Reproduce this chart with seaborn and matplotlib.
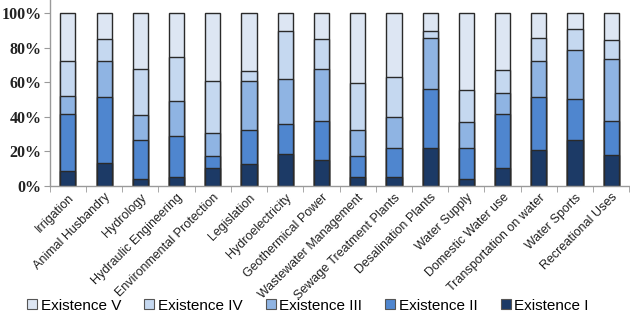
import matplotlib
matplotlib.use("Agg")
import matplotlib.pyplot as plt
import seaborn as sns
import pandas as pd
import numpy as np
from matplotlib.ticker import PercentFormatter, FixedLocator
from matplotlib.patches import Patch

categories = ["Irrigation", "Animal Husbandry", "Hydrology", "Hydraulic Engineering",
              "Environmental Protection", "Legislation", "Hydroelectricity",
              "Geothermical Power", "Wastewater Management", "Sewage Treatment Plants",
              "Desalination Plants", "Water Supply", "Domestic Water use",
              "Transportation on water", "Water Sports", "Recreational Uses"]

existence_1 = [8.5, 13.2, 3.9, 5.4, 10.4, 12.6, 18.2, 14.9, 5.4, 5.0, 22.2, 4.1, 10.4, 20.9, 26.3, 17.8]
existence_2 = [33.1, 38.1, 22.4, 23.4, 6.8, 19.5, 17.6, 22.8, 11.8, 16.7, 34.1, 18.1, 31.2, 30.4, 23.8, 19.9]
existence_3 = [10.6, 20.8, 14.9, 20.1, 13.6, 28.8, 25.9, 29.8, 14.9, 18.1, 29.2, 14.9, 12.4, 20.8, 28.4, 35.6]
existence_4 = [20.3, 12.8, 26.5, 25.6, 29.7, 5.8, 27.9, 17.4, 27.5, 23.3, 4.4, 18.2, 12.9, 13.8, 12.2, 11.2]
existence_5 = [27.5, 15.1, 32.3, 25.5, 39.5, 33.3, 10.4, 15.1, 40.4, 36.9, 10.1, 44.7, 33.1, 14.1, 9.3, 15.5]

series_names = ["Existence I", "Existence II", "Existence III", "Existence IV", "Existence V"]
series_values = [existence_1, existence_2, existence_3, existence_4, existence_5]
colors = ["#1c3a66", "#4f86cf", "#8fb4e3", "#c5d8f0", "#dde6f3"]

vals = np.array(series_values, dtype=float)
vals = vals / vals.sum(axis=0, keepdims=True)
cum = np.cumsum(vals, axis=0)

fig = plt.figure(figsize=(6.3, 3.14), dpi=100)
ax = fig.add_axes([0.079, 0.408, 0.92, 0.592])

# draw cumulative layers from top (V) down to bottom (I)
for i in range(len(series_names) - 1, -1, -1):
    df = pd.DataFrame({"cat": categories, "val": cum[i]})
    sns.barplot(data=df, x="cat", y="val", ax=ax, color=colors[i], width=0.42,
                edgecolor="#2a2a2a", linewidth=1.0, saturation=1)

ax.set_ylim(0, 1.077)
ax.set_xlim(-0.5, len(categories) - 0.5)
ax.set_yticks([0, 0.2, 0.4, 0.6, 0.8, 1.0])
ax.yaxis.set_major_formatter(PercentFormatter(1.0, decimals=0))
ax.set_xlabel("")
ax.set_ylabel("")

for s in ["top", "right"]:
    ax.spines[s].set_visible(False)
for s in ["left", "bottom"]:
    ax.spines[s].set_color("#9a9a9a")
    ax.spines[s].set_linewidth(1.0)

ax.tick_params(axis="y", length=4, color="#9a9a9a", pad=2)
for lab in ax.get_yticklabels():
    lab.set_fontfamily("Liberation Serif")
    lab.set_fontweight("bold")
    lab.set_fontsize(11.5)
    lab.set_color("#222222")

ax.tick_params(axis="x", which="major", length=0, pad=4)
ax.xaxis.set_minor_locator(FixedLocator(np.arange(-0.5, len(categories), 1.0)))
ax.tick_params(axis="x", which="minor", length=4, color="#9a9a9a")
ax.set_xticks(range(len(categories)))
ax.set_xticklabels(categories, rotation=45, ha="right", rotation_mode="anchor",
                   fontsize=9, fontfamily="Liberation Sans", color="#222222")

handles = [Patch(facecolor=colors[i], edgecolor="#555555", linewidth=0.8, label=series_names[i])
           for i in range(len(series_names) - 1, -1, -1)]
fig.legend(handles=handles, loc="center", bbox_to_anchor=(0.489, 0.027), ncol=5,
           frameon=False, prop={"family": "Liberation Sans", "size": 11},
           handlelength=0.65, handleheight=0.65, handletextpad=0.25, columnspacing=1.5,
           borderpad=0.1)

fig.savefig("out.png", dpi=100)
